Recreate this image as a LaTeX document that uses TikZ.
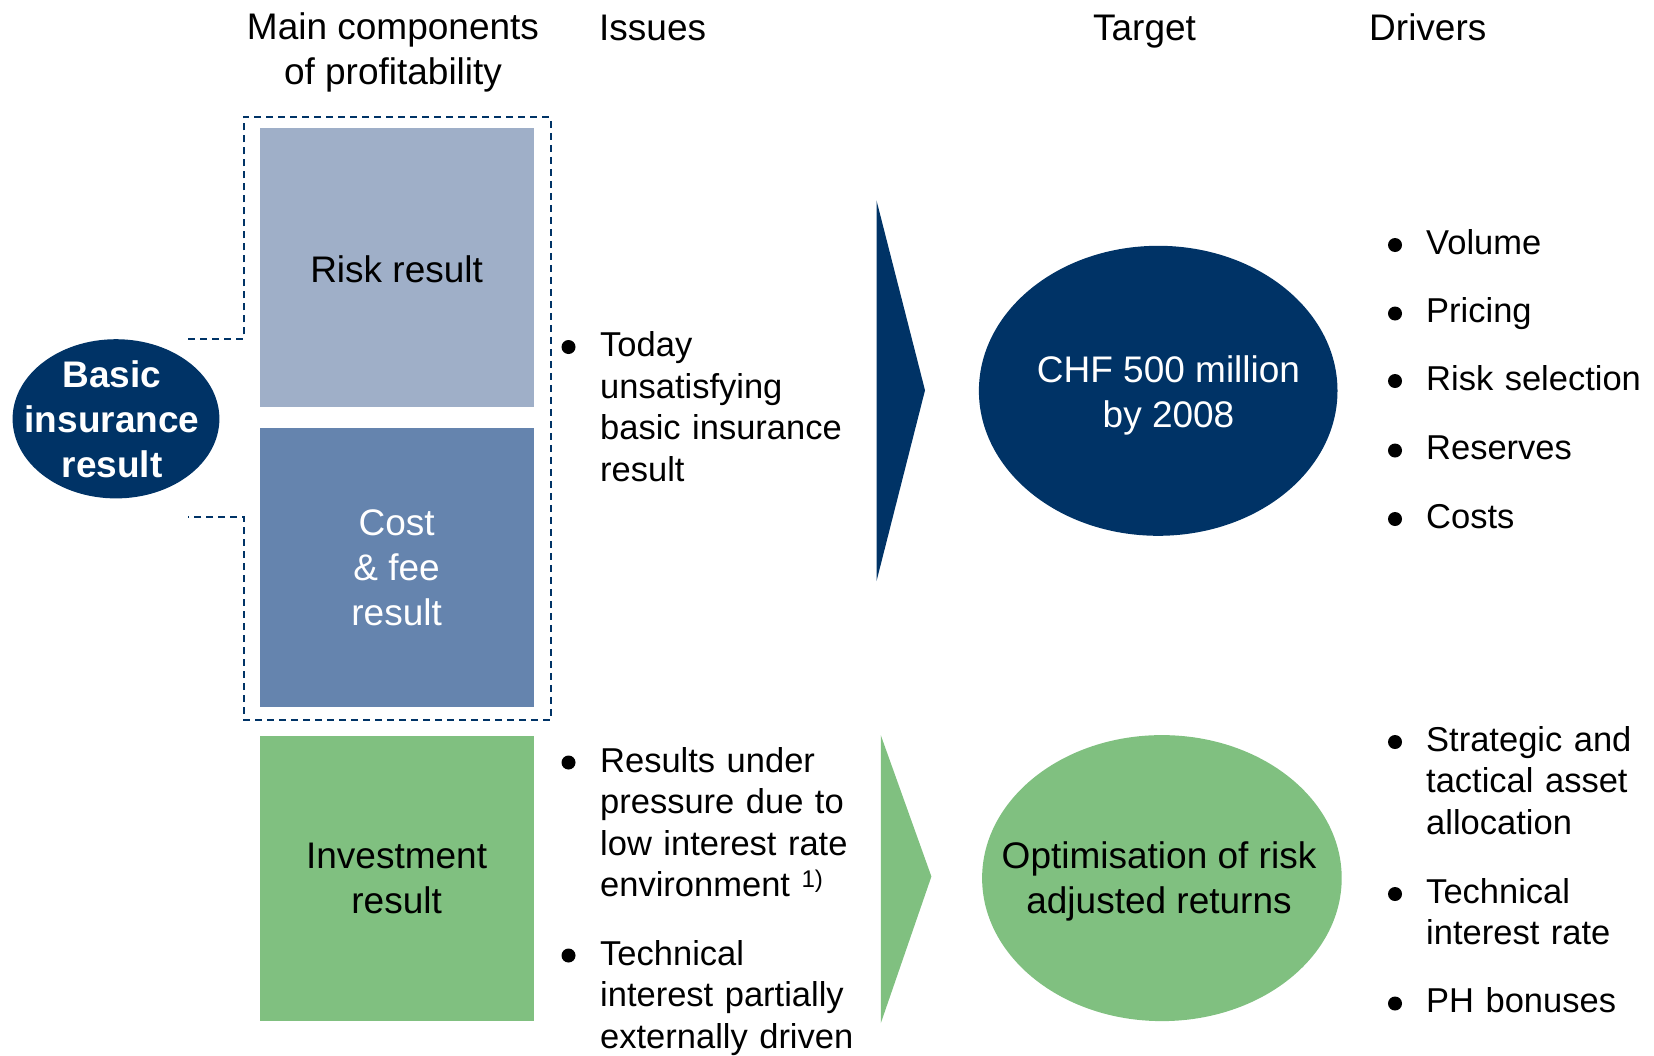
\documentclass[tikz,border=0pt]{standalone}
\usepackage{fontspec}
\setmainfont{Liberation Sans}
\usetikzlibrary{shapes.geometric}
\definecolor{navy}{HTML}{003366}
\definecolor{riskc}{HTML}{9FAFC8}
\definecolor{costc}{HTML}{6584AE}
\definecolor{greenc}{HTML}{80C080}
\begin{document}
\begin{tikzpicture}[x=1pt,y=-1pt,
  hdr/.style={font=\fontsize{37}{45}\selectfont, inner sep=0, align=center},
  block/.style={rectangle, inner sep=0, minimum width=274.2pt, align=center,
                font=\fontsize{37}{45}\selectfont},
  blob/.style={ellipse, inner sep=0},
  blobtxt/.style={inner sep=0, align=center, font=\fontsize{37}{45}\selectfont},
  item/.style={inner sep=0, anchor=base west, text width=280pt, align=left,
               font=\fontsize{34.5}{41.5}\selectfont},
  dot/.style={circle, fill=black, minimum size=14pt, inner sep=0},
  dashline/.style={draw=navy, line width=2.2pt, dash pattern=on 7pt off 5pt}]
\useasboundingbox (0,0) rectangle (1654,1055);

% column headers
\node[hdr] (hmain) at (393,52.5) {Main components\\of profitability};
\node[hdr, anchor=base west] (hiss) at (599,40) {Issues};
\node[hdr, anchor=base] (htar) at (1144.5,40) {Target};
\node[hdr, anchor=base west] (hdrv) at (1369,40) {Drivers};

% profitability components
\node[block, fill=riskc, minimum height=279.4pt] (risk) at (396.6,267.3) {};
\node[inner sep=0, font=\fontsize{37}{45}\selectfont] (riskt) at (396.6,269.5) {Risk result};
\node[block, fill=costc, minimum height=279pt, text=white] (cost) at (396.6,567.5) {Cost\\\& fee\\result};
\node[block, fill=greenc, minimum height=285pt] (inv) at (396.6,878.5) {Investment\\result};

% basic insurance result
\node[blob, fill=navy, minimum width=206.8pt, minimum height=159.2pt] (bir) at (116,418.8) {};
\node[blobtxt, text=white, font=\bfseries\fontsize{37}{45}\selectfont] (birt) at (112,419.5) {Basic\\insurance\\result};

% dashed bracket around risk and cost results
\coordinate (dA) at (188,338.6);
\coordinate (dB) at (188,516.8);
\draw[dashline] (dA) -- (243.7,338.6) -- (243.7,117) -- (550.6,117) -- (550.6,720)
  -- (243.7,720) -- (243.7,516.8) -- (dB);

% issues
\node[dot] (d1) at (568.5,347) {};
\node[item] (i1) at (600,356.5) {Today\\unsatisfying\\basic insurance\\result};
\node[dot] (d2) at (568.5,762.5) {};
\node[item] (i2) at (600,772) {Results under\\pressure due to\\low interest rate\\environment \textsuperscript{1)}};
\node[dot] (d3) at (568.5,955.5) {};
\node[item] (i3) at (600,965) {Technical\\interest partially\\externally driven};

% chevrons
\fill[navy] (876.5,200.4) -- (925,390.3) -- (876.5,581.2) -- cycle;
\fill[greenc] (880.8,735.2) -- (931.4,876.5) -- (880.8,1023.2) -- cycle;

% targets
\node[blob, fill=navy, minimum width=358.6pt, minimum height=290pt] (t1) at (1158.2,390.8) {};
\node[blobtxt, text=white] (t1t) at (1168.5,395) {CHF 500 million\\by 2008};
\node[blob, fill=greenc, minimum width=359.6pt, minimum height=286pt] (t2) at (1161.9,878.1) {};
\node[blobtxt] (t2t) at (1159,881.5) {Optimisation of risk\\adjusted returns};

% drivers
\node[dot] (e1) at (1395,245) {};
\node[item] (r1) at (1426,254) {Volume};
\node[dot] (e2) at (1395,313.5) {};
\node[item] (r2) at (1426,322.5) {Pricing};
\node[dot] (e3) at (1395,381) {};
\node[item] (r3) at (1426,390) {Risk selection};
\node[dot] (e4) at (1395,450.5) {};
\node[item] (r4) at (1426,459.5) {Reserves};
\node[dot] (e5) at (1395,519) {};
\node[item] (r5) at (1426,528) {Costs};
\node[dot] (e6) at (1395,742) {};
\node[item] (r6) at (1426,751) {Strategic and\\tactical asset\\allocation};
\node[dot] (e7) at (1395,894) {};
\node[item] (r7) at (1426,903) {Technical\\interest rate};
\node[dot] (e8) at (1395,1003.5) {};
\node[item] (r8) at (1426,1012.5) {PH bonuses};
\end{tikzpicture}
\end{document}
